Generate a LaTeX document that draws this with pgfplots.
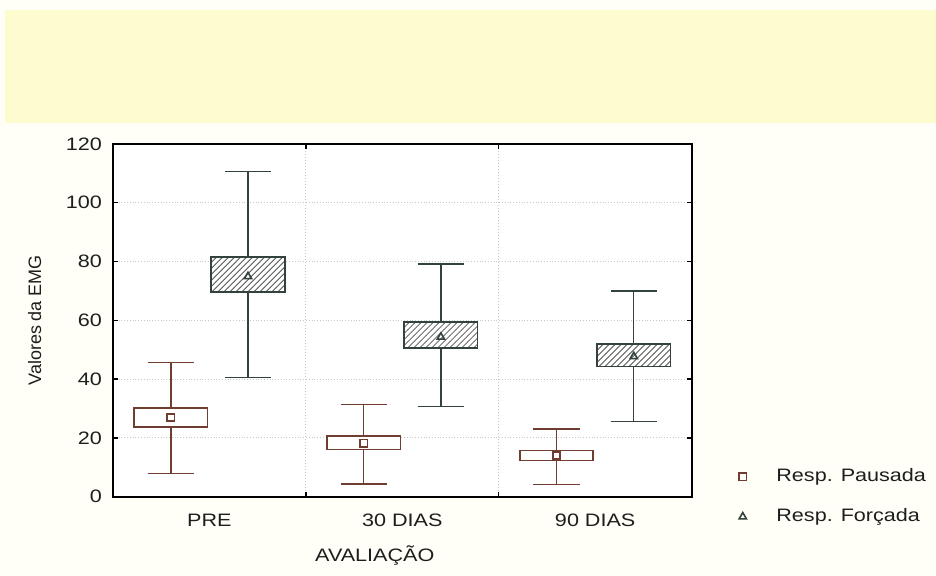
\documentclass[border=0pt]{standalone}
\usepackage{fontspec}
\setmainfont{Liberation Sans}[FakeStretch=1.2]
\newfontfamily\plainsans{Liberation Sans}
\usepackage{pgfplots}
\pgfplotsset{compat=1.18}
\usepgfplotslibrary{statistics}
\usetikzlibrary{patterns}

\definecolor{pagebg}{RGB}{255,255,247}
\definecolor{band}{RGB}{252,252,206}
\definecolor{pausada}{RGB}{112,62,48}
\definecolor{forcada}{RGB}{52,66,62}
\definecolor{gridc}{RGB}{200,200,200}
\definecolor{txt}{RGB}{30,30,30}

\begin{document}
\begin{tikzpicture}
  % page and header band
  \fill[pagebg] (0,0) rectangle (468pt,288pt);
  \fill[band] (2.5pt,226.5pt) rectangle (468pt,283pt);

  \begin{axis}[
    at={(56.5pt,39.5pt)}, anchor=south west,
    scale only axis, width=289.5pt, height=176.5pt,
    xmin=-0.5, xmax=2.5, ymin=0, ymax=120,
    xtick={0,1,2},
    xticklabels={PRE, 30 DIAS, 90 DIAS},
    major x tick style={draw=none},
    minor xtick={0.5,1.5},
    xminorgrids=true,
    ytick={0,20,...,120},
    ymajorgrids=true,
    grid style={gridc, densely dotted, line width=0.5pt},
    minor grid style={gridc, densely dotted, line width=0.5pt},
    tick align=inside,
    major tick length=2.5pt, minor tick length=2.5pt,
    tick style={black, line width=0.7pt},
    axis line style={black, line width=1pt},
    axis background/.style={fill=white},
    /pgf/number format/assume math mode=true,
    ticklabel style={font=\fontsize{9}{10}\selectfont, text=txt},
    xticklabel style={yshift=-5pt},
    yticklabel style={xshift=-2pt},
    label style={font=\fontsize{9}{10}\selectfont, text=txt},
    xlabel={AVALIAÇÃO},
    xlabel style={at={(axis description cs:0.4525,-0.167)}, anchor=center},
    ylabel={\plainsans Valores da EMG},
    ylabel style={at={(axis description cs:-0.135,0.5)}, anchor=center},
    legend style={at={(axis description cs:1.071,0.0)}, anchor=west,
      draw=none, fill=none, font=\fontsize{9}{10}\selectfont, text=txt,
      row sep=8pt, /tikz/every odd column/.append style={column sep=13pt}},
    legend cell align=left,
    boxplot/draw direction=y,
    boxplot/every median/.style={draw=none},
  ]

  % Resp. Pausada
  \pgfplotsset{pbox/.style={forget plot, draw=pausada, line width=0.7pt,
      boxplot/box extend=0.38, boxplot/whisker extend=0.24,
      boxplot/every box/.style={draw=pausada, fill=white, line width=0.8pt}}}
  \addplot[pbox, boxplot prepared={draw position=-0.2,
      lower whisker=8, lower quartile=23.7, median=27,
      upper quartile=30.1, upper whisker=45.7}] coordinates {};
  \addplot[pbox, boxplot prepared={draw position=0.8,
      lower whisker=4.3, lower quartile=16, median=18.2,
      upper quartile=20.7, upper whisker=31.4}] coordinates {};
  \addplot[pbox, boxplot prepared={draw position=1.8,
      lower whisker=4.1, lower quartile=12.3, median=14,
      upper quartile=15.7, upper whisker=23}] coordinates {};

  % Resp. Forcada
  \pgfplotsset{fbox/.style={forget plot, draw=forcada, line width=0.7pt,
      boxplot/box extend=0.38, boxplot/whisker extend=0.24,
      boxplot/every box/.style={draw=forcada, fill=white, line width=0.9pt,
        postaction={pattern=north east lines, pattern color=black!65}}}}
  \addplot[fbox, boxplot prepared={draw position=0.2,
      lower whisker=40.6, lower quartile=69.5, median=74.9,
      upper quartile=81.5, upper whisker=110.6}] coordinates {};
  \addplot[fbox, boxplot prepared={draw position=1.2,
      lower whisker=30.7, lower quartile=50.5, median=54.3,
      upper quartile=59.3, upper whisker=79.2}] coordinates {};
  \addplot[fbox, boxplot prepared={draw position=2.2,
      lower whisker=25.6, lower quartile=44.3, median=47.7,
      upper quartile=51.9, upper whisker=70}] coordinates {};

  % group means
  \addplot[only marks, mark=square, mark size=1.8pt, pausada,
    mark options={fill=white, line width=0.8pt}]
    coordinates {(-0.2,27) (0.8,18.2) (1.8,14)};
  \addlegendentry{Resp. Pausada}
  \addplot[only marks, mark=triangle, mark size=2.1pt, forcada,
    mark options={fill=white, line width=0.8pt}]
    coordinates {(0.2,74.9) (1.2,54.3) (2.2,47.7)};
  \addlegendentry{Resp. Forçada}
  \end{axis}
\end{tikzpicture}
\end{document}
